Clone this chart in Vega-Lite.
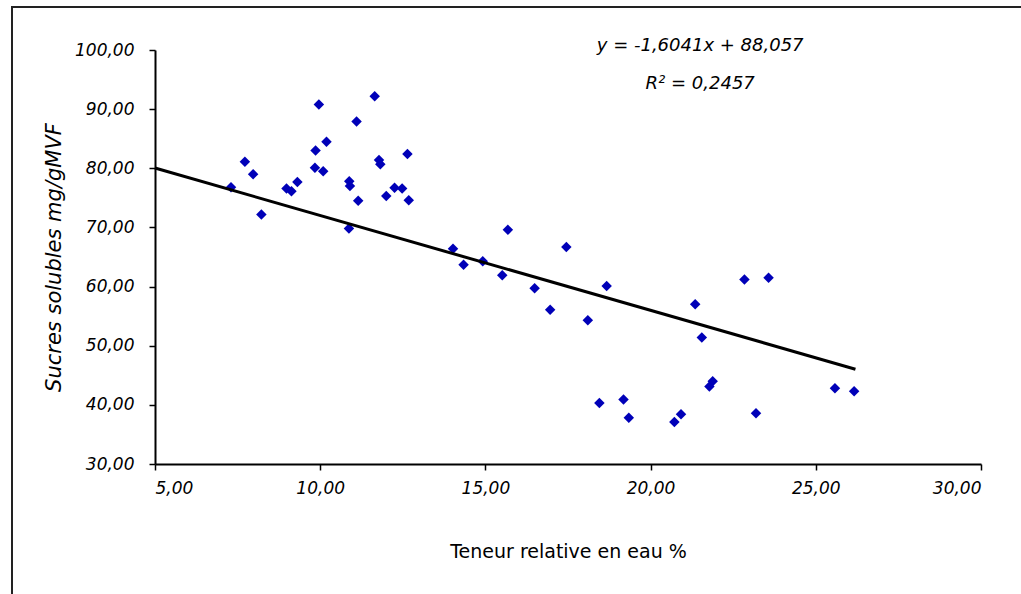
{
  "$schema": "https://vega.github.io/schema/vega-lite/v6.json",
  "autosize": "none",
  "width": 1009,
  "height": 587,
  "padding": {"left": 12, "top": 7, "right": 0, "bottom": 0},
  "background": "white",
  "config": {
    "view": {"stroke": "#222222", "strokeWidth": 2, "strokeDash": [1009, 1596, 587], "fill": "white"},
    "font": "DejaVu Sans",
    "axis": {
      "grid": false,
      "domainColor": "#000000",
      "domainWidth": 2,
      "tickColor": "#000000",
      "tickWidth": 1.5,
      "tickSize": 6,
      "labelColor": "#000000",
      "labelFont": "DejaVu Sans",
      "labelFontSize": 17,
      "labelFontStyle": "italic",
      "titleColor": "#000000",
      "titleFont": "DejaVu Sans",
      "titleFontSize": 19,
      "titleFontWeight": "normal"
    }
  },
  "layer": [
    {
      "data": {
        "values": [
          {"teneur": 7.30, "sucres": 76.8},
          {"teneur": 7.72, "sucres": 81.1},
          {"teneur": 7.97, "sucres": 79.0},
          {"teneur": 8.22, "sucres": 72.2},
          {"teneur": 8.98, "sucres": 76.6},
          {"teneur": 9.13, "sucres": 76.1},
          {"teneur": 9.31, "sucres": 77.7},
          {"teneur": 9.96, "sucres": 90.8},
          {"teneur": 10.19, "sucres": 84.5},
          {"teneur": 9.86, "sucres": 83.0},
          {"teneur": 9.84, "sucres": 80.1},
          {"teneur": 10.09, "sucres": 79.5},
          {"teneur": 11.65, "sucres": 92.2},
          {"teneur": 11.10, "sucres": 87.9},
          {"teneur": 11.78, "sucres": 81.4},
          {"teneur": 11.82, "sucres": 80.7},
          {"teneur": 12.64, "sucres": 82.4},
          {"teneur": 10.88, "sucres": 77.8},
          {"teneur": 10.90, "sucres": 77.0},
          {"teneur": 11.15, "sucres": 74.5},
          {"teneur": 12.00, "sucres": 75.3},
          {"teneur": 12.25, "sucres": 76.7},
          {"teneur": 12.48, "sucres": 76.6},
          {"teneur": 12.68, "sucres": 74.6},
          {"teneur": 10.87, "sucres": 69.8},
          {"teneur": 14.02, "sucres": 66.4},
          {"teneur": 14.34, "sucres": 63.7},
          {"teneur": 14.92, "sucres": 64.3},
          {"teneur": 15.68, "sucres": 69.6},
          {"teneur": 15.51, "sucres": 61.9},
          {"teneur": 16.49, "sucres": 59.7},
          {"teneur": 17.45, "sucres": 66.7},
          {"teneur": 16.96, "sucres": 56.1},
          {"teneur": 18.10, "sucres": 54.3},
          {"teneur": 18.67, "sucres": 60.1},
          {"teneur": 18.45, "sucres": 40.3},
          {"teneur": 19.18, "sucres": 40.9},
          {"teneur": 19.34, "sucres": 37.8},
          {"teneur": 20.72, "sucres": 37.1},
          {"teneur": 20.92, "sucres": 38.4},
          {"teneur": 21.35, "sucres": 57.0},
          {"teneur": 21.55, "sucres": 51.4},
          {"teneur": 21.78, "sucres": 43.1},
          {"teneur": 21.88, "sucres": 44.0},
          {"teneur": 22.84, "sucres": 61.2},
          {"teneur": 23.57, "sucres": 61.5},
          {"teneur": 23.19, "sucres": 38.6},
          {"teneur": 25.58, "sucres": 42.8},
          {"teneur": 26.16, "sucres": 42.3}
        ]
      },
      "mark": {"type": "point", "shape": "diamond", "filled": true, "size": 110, "color": "#0000B8", "opacity": 1},
      "encoding": {
        "x": {
          "field": "teneur",
          "type": "quantitative",
          "scale": {"domain": [5, 30], "range": [143, 969], "nice": false, "zero": false},
          "axis": {
            "title": "Teneur relative en eau %",
            "values": [5, 10, 15, 20, 25, 30],
            "labelExpr": "replace(format(datum.value, '.2f'), '.', ',')",
            "offset": -130,
            "labelPadding": 10,
            "titlePadding": 46
          }
        },
        "y": {
          "field": "sucres",
          "type": "quantitative",
          "scale": {"domain": [30, 100], "range": [457, 43], "nice": false, "zero": false},
          "axis": {
            "title": "Sucres solubles mg/gMVF",
            "titleFontStyle": "italic",
            "titleFontSize": 21,
            "values": [30, 40, 50, 60, 70, 80, 90, 100],
            "labelExpr": "replace(format(datum.value, '.2f'), '.', ',')",
            "offset": -143,
            "labelPadding": 15,
            "titlePadding": 10
          }
        }
      }
    },
    {
      "data": {
        "values": [
          {"teneur": 5.0, "sucres": 80.04},
          {"teneur": 26.2, "sucres": 46.03}
        ]
      },
      "mark": {"type": "line", "color": "#000000", "strokeWidth": 3},
      "encoding": {
        "x": {"field": "teneur", "type": "quantitative", "scale": {"domain": [5, 30], "range": [143, 969], "nice": false, "zero": false}},
        "y": {"field": "sucres", "type": "quantitative", "scale": {"domain": [30, 100], "range": [457, 43], "nice": false, "zero": false}}
      }
    },
    {
      "data": {
        "values": [
          {"teneur": 21.5, "sucres": 100.7, "label": "y = -1,6041x + 88,057"},
          {"teneur": 21.5, "sucres": 94.3, "label": "R² = 0,2457"}
        ]
      },
      "mark": {"type": "text", "font": "DejaVu Sans", "fontStyle": "italic", "fontSize": 18, "color": "#000000", "align": "center", "baseline": "middle", "clip": false},
      "encoding": {
        "x": {"field": "teneur", "type": "quantitative", "scale": {"domain": [5, 30], "range": [143, 969], "nice": false, "zero": false}},
        "y": {"field": "sucres", "type": "quantitative", "scale": {"domain": [30, 100], "range": [457, 43], "nice": false, "zero": false}},
        "text": {"field": "label"}
      }
    }
  ]
}
